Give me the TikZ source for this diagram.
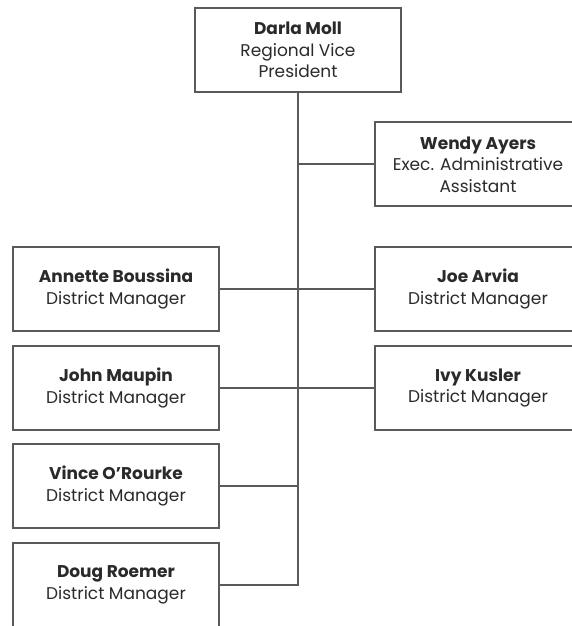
\documentclass[tikz,border=0pt]{standalone}
\usepackage{fontspec}
\setmainfont{Poppins}
\definecolor{boxline}{HTML}{5A5A5A}
\definecolor{txt}{HTML}{2A2A2A}
\begin{document}
\begin{tikzpicture}[x=1pt,y=1pt,
  person/.style={draw=boxline, line width=2pt, rectangle, minimum width=206pt, minimum height=84pt,
    align=center, text=txt, font=\fontsize{17}{21.5}\selectfont, inner sep=0pt},
  link/.style={draw=boxline, line width=2pt}]
\useasboundingbox (0,0) rectangle (571,-626);
\node[person] (darla) at (298,-50) {\textbf{Darla Moll}\\Regional Vice\\President};
\node[person] (wendy) at (478,-164.3) {\textbf{Wendy Ayers}\\Exec. Administrative\\Assistant};
\node[person] (annette) at (116,-289) {\textbf{Annette Boussina}\\District Manager};
\node[person] (joe) at (478,-289) {\textbf{Joe Arvia}\\District Manager};
\node[person] (john) at (116,-388) {\textbf{John Maupin}\\District Manager};
\node[person] (ivy) at (478,-388) {\textbf{Ivy Kusler}\\District Manager};
\node[person] (vince) at (116,-486) {\textbf{Vince O’Rourke}\\District Manager};
\node[person] (doug) at (116,-585) {\textbf{Doug Roemer}\\District Manager};
\draw[link] (darla.south) -- (darla.south |- doug.east) -- (doug.east);
\draw[link] (wendy.west) -- (wendy.west -| darla.south);
\draw[link] (annette.east) -- (joe.west);
\draw[link] (john.east) -- (ivy.west);
\draw[link] (vince.east) -- (vince.east -| darla.south);
\end{tikzpicture}
\end{document}
